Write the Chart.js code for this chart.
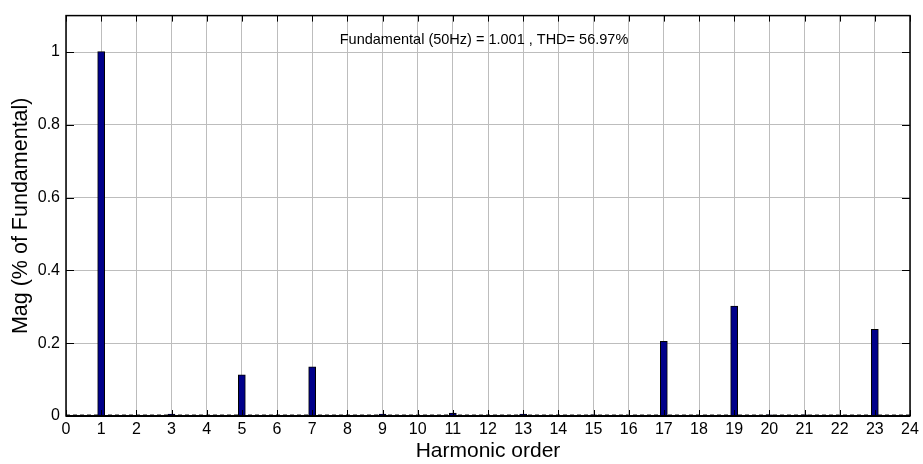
<!DOCTYPE html>
<html>
<head>
<meta charset="utf-8">
<script src="https://cdn.jsdelivr.net/npm/chart.js@4/dist/chart.umd.min.js"></script>
<style>
  html, body { margin: 0; padding: 0; background: #fff; }
  #wrap { width: 923px; height: 464px; }
</style>
</head>
<body>
<div id="wrap"><canvas id="thdChart" width="923" height="464"></canvas></div>
<script>
// harmonic orders and their magnitudes (per unit of fundamental)
const harmonicOrders = [1, 3, 5, 7, 9, 11, 13, 15, 17, 19, 20, 21, 23];
const magnitudes = [1.001, 0.005, 0.113, 0.135, 0.005, 0.008, 0.005, 0.003, 0.205, 0.302, 0.003, 0.003, 0.238];
const xTicks = [0, 1, 2, 3, 4, 5, 6, 7, 8, 9, 10, 11, 12, 13, 14, 15, 16, 17, 18, 19, 20, 21, 22, 23, 24];
const yTicks = [0, 0.2, 0.4, 0.6, 0.8, 1];
const headline = 'Fundamental (50Hz) = 1.001 , THD= 56.97%';

const FONT = '"Liberation Sans", Arial, sans-serif';

// box, inward ticks, zero baseline and the text line at the top
const matlabAxes = {
    id: 'matlabAxes',
    beforeDatasetsDraw(chart) {
        const { ctx, chartArea: a, scales: { y } } = chart;
        ctx.save();
        ctx.strokeStyle = '#8c8c8c';
        ctx.lineWidth = 1;
        ctx.setLineDash([4, 3]);
        const y0 = Math.round(y.getPixelForValue(0)) - 1.5;
        ctx.beginPath();
        ctx.moveTo(a.left, y0);
        ctx.lineTo(a.right, y0);
        ctx.stroke();
        ctx.restore();
    },
    afterDatasetsDraw(chart) {
        const { ctx, chartArea: a, scales: { x, y } } = chart;
        ctx.save();
        ctx.strokeStyle = '#000';
        ctx.lineWidth = 1;
        ctx.beginPath();
        xTicks.forEach(v => {
            const px = Math.round(x.getPixelForValue(v)) + 0.5;
            ctx.moveTo(px, a.top); ctx.lineTo(px, a.top + 6);
            ctx.moveTo(px, a.bottom); ctx.lineTo(px, a.bottom - 6);
        });
        yTicks.forEach(v => {
            const py = Math.round(y.getPixelForValue(v)) + 0.5;
            ctx.moveTo(a.left, py); ctx.lineTo(a.left + 8, py);
            ctx.moveTo(a.right, py); ctx.lineTo(a.right - 8, py);
        });
        ctx.stroke();

        ctx.lineWidth = 1.5;
        ctx.strokeRect(a.left, a.top, a.right - a.left, a.bottom - a.top);
        ctx.lineWidth = 2;
        ctx.beginPath();
        ctx.moveTo(a.left, a.bottom); ctx.lineTo(a.right, a.bottom);
        ctx.stroke();

        ctx.fillStyle = '#000';
        ctx.font = '14.5px ' + FONT;
        ctx.textAlign = 'center';
        ctx.textBaseline = 'middle';
        ctx.fillText(headline, (a.left + a.right) / 2 - 4, a.top + 24);
        ctx.restore();
    }
};

new Chart(document.getElementById('thdChart'), {
    type: 'bar',
    data: {
        datasets: [{
            data: harmonicOrders.map((h, i) => ({ x: h, y: magnitudes[i] })),
            backgroundColor: '#00008a',
            borderColor: '#000',
            borderWidth: 1,
            barThickness: 7
        }]
    },
    options: {
        responsive: false,
        animation: false,
        layout: { padding: { left: 0, right: 13, top: 8, bottom: 0 } },
        plugins: { legend: { display: false }, tooltip: { enabled: false } },
        scales: {
            x: {
                type: 'linear',
                min: 0,
                max: 24,
                offset: false,
                afterBuildTicks: s => { s.ticks = xTicks.map(v => ({ value: v })); },
                afterFit: s => { s.height = 48; },
                border: { display: false },
                grid: { color: '#bdbdbd', drawTicks: false, offset: false },
                ticks: { color: '#000', font: { family: FONT, size: 16 }, padding: 4, maxRotation: 0, autoSkip: false },
                title: { display: true, text: 'Harmonic order', color: '#000', font: { family: FONT, size: 21 }, padding: { top: -5, bottom: 0 } }
            },
            y: {
                min: 0,
                max: 1.1,
                afterBuildTicks: s => { s.ticks = yTicks.map(v => ({ value: v })); },
                afterFit: s => { s.width = 66; },
                border: { display: false },
                grid: { color: '#bdbdbd', drawTicks: false },
                ticks: { color: '#000', font: { family: FONT, size: 16 }, padding: 6, callback: v => String(v) },
                title: { display: true, text: 'Mag (% of Fundamental)', color: '#000', font: { family: FONT, size: 21.5 }, padding: { top: 8, bottom: 0 } }
            }
        }
    },
    plugins: [matlabAxes]
});
</script>
</body>
</html>
